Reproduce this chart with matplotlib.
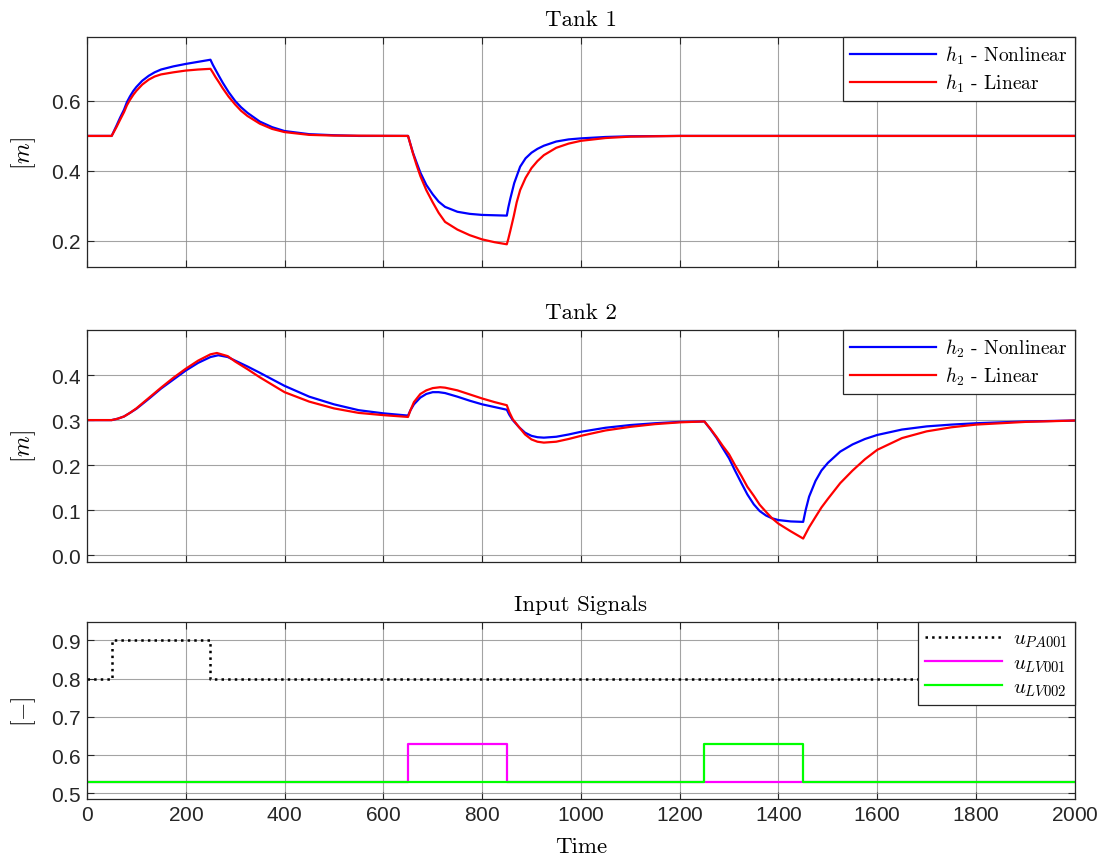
import numpy as np
import matplotlib
matplotlib.use("Agg")
import matplotlib.pyplot as plt

plt.rcParams['mathtext.fontset'] = 'cm'
plt.rcParams['axes.formatter.use_mathtext'] = True

# ---- Tank 1 (h1) ----
t1_nl = [0, 50, 55, 60, 67, 75, 81, 87, 94, 100, 112, 125, 137, 150, 175, 200, 225, 250,
         255, 260, 267, 275, 287, 300, 312, 325, 350, 375, 400, 450, 500, 550, 650,
         655, 660, 667, 675, 687, 700, 712, 725, 750, 775, 800, 850,
         853, 857, 865, 877, 888, 900, 912, 925, 950, 975, 1000, 1050, 1100, 1200, 2000]
h1_nl = [0.5, 0.5, 0.515, 0.53, 0.552, 0.575, 0.597, 0.613, 0.629, 0.64, 0.658, 0.672, 0.682, 0.69, 0.699, 0.706, 0.712, 0.718,
         0.703, 0.69, 0.672, 0.652, 0.625, 0.6, 0.582, 0.566, 0.541, 0.525, 0.514, 0.505, 0.502, 0.5, 0.5,
         0.476, 0.452, 0.425, 0.395, 0.36, 0.333, 0.312, 0.297, 0.283, 0.277, 0.274, 0.272,
         0.295, 0.32, 0.365, 0.412, 0.436, 0.452, 0.463, 0.472, 0.484, 0.49, 0.493, 0.497, 0.499, 0.5, 0.5]

t1_lin = [0, 50, 55, 60, 67, 75, 81, 87, 94, 100, 112, 125, 137, 150, 175, 200, 225, 250,
          255, 260, 267, 275, 287, 300, 312, 325, 350, 375, 400, 450, 500, 650,
          655, 660, 667, 675, 687, 700, 712, 725, 750, 775, 800, 825, 850,
          853, 857, 864, 870, 877, 888, 900, 912, 925, 950, 975, 1000, 1050, 1100, 1200, 2000]
h1_lin = [0.5, 0.5, 0.513, 0.526, 0.546, 0.568, 0.588, 0.603, 0.618, 0.629, 0.647, 0.661, 0.67, 0.676, 0.682, 0.687, 0.69, 0.692,
          0.681, 0.669, 0.654, 0.636, 0.612, 0.59, 0.572, 0.557, 0.535, 0.52, 0.511, 0.503, 0.501, 0.5,
          0.475, 0.45, 0.418, 0.385, 0.345, 0.31, 0.28, 0.254, 0.232, 0.216, 0.204, 0.196, 0.19,
          0.205, 0.228, 0.27, 0.31, 0.345, 0.38, 0.408, 0.428, 0.445, 0.466, 0.478, 0.486, 0.494, 0.498, 0.5, 0.5]

# ---- Tank 2 (h2) ----
t2_nl = [0, 50, 62, 75, 87, 100, 125, 150, 175, 200, 225, 250, 266, 285, 300, 325, 350, 400, 450, 500, 550, 600, 650,
         655, 662, 675, 687, 700, 712, 725, 750, 775, 800, 825, 850,
         855, 862, 875, 887, 900, 912, 925, 950, 975, 1000, 1050, 1100, 1150, 1200, 1250,
         1262, 1275, 1287, 1300, 1312, 1325, 1337, 1350, 1362, 1375, 1387, 1400, 1425, 1450,
         1455, 1462, 1475, 1487, 1500, 1525, 1550, 1575, 1600, 1650, 1700, 1750, 1800, 1900, 2000]
h2_nl = [0.3, 0.3, 0.303, 0.308, 0.316, 0.325, 0.347, 0.37, 0.39, 0.41, 0.427, 0.44, 0.444, 0.44, 0.432, 0.419, 0.405, 0.376, 0.352, 0.335, 0.322, 0.315, 0.31,
         0.322, 0.335, 0.35, 0.358, 0.362, 0.362, 0.36, 0.352, 0.343, 0.335, 0.329, 0.323,
         0.312, 0.3, 0.284, 0.272, 0.265, 0.262, 0.261, 0.263, 0.268, 0.274, 0.283, 0.289, 0.293, 0.296, 0.297,
         0.28, 0.26, 0.238, 0.215, 0.188, 0.16, 0.135, 0.113, 0.098, 0.088, 0.082, 0.078, 0.075, 0.074,
         0.1, 0.13, 0.165, 0.188, 0.205, 0.23, 0.246, 0.258, 0.267, 0.279, 0.286, 0.29, 0.293, 0.297, 0.299]

t2_lin = [0, 50, 62, 75, 87, 100, 125, 150, 175, 200, 225, 250, 263, 285, 300, 325, 350, 400, 450, 500, 550, 600, 650,
          655, 662, 675, 687, 700, 715, 725, 750, 775, 800, 825, 850,
          855, 862, 875, 887, 900, 912, 925, 950, 975, 1000, 1050, 1100, 1150, 1200, 1250,
          1262, 1275, 1287, 1300, 1312, 1325, 1337, 1350, 1362, 1375, 1387, 1400, 1425, 1450,
          1462, 1475, 1487, 1500, 1525, 1550, 1575, 1600, 1650, 1700, 1750, 1800, 1900, 2000]
h2_lin = [0.3, 0.3, 0.303, 0.308, 0.316, 0.326, 0.349, 0.372, 0.394, 0.414, 0.432, 0.446, 0.449, 0.442, 0.43, 0.413, 0.395, 0.362, 0.341, 0.326, 0.316, 0.311, 0.307,
          0.322, 0.34, 0.358, 0.366, 0.371, 0.373, 0.372, 0.366, 0.357, 0.348, 0.34, 0.333,
          0.318, 0.302, 0.284, 0.268, 0.257, 0.252, 0.25, 0.252, 0.258, 0.265, 0.277, 0.285, 0.291, 0.295, 0.297,
          0.281, 0.262, 0.243, 0.224, 0.2, 0.176, 0.152, 0.132, 0.112, 0.096, 0.082, 0.07, 0.053, 0.037,
          0.062, 0.085, 0.106, 0.125, 0.16, 0.188, 0.213, 0.234, 0.26, 0.275, 0.284, 0.29, 0.296, 0.299]

# ---- Input signals (step breakpoints) ----
t_pa = [0, 50, 250, 2000]
u_pa = [0.8, 0.9, 0.8, 0.8]
t_lv1 = [0, 650, 850, 2000]
u_lv1 = [0.53, 0.63, 0.53, 0.53]
t_lv2 = [0, 1250, 1450, 2000]
u_lv2 = [0.53, 0.63, 0.53, 0.53]

xticks = list(range(0, 2001, 200))

serif = 'cmr10'
tickfont = 'Liberation Sans'


def style_axes(ax, yticks, ylim, show_x):
    ax.set_xlim(0, 2000)
    ax.set_ylim(*ylim)
    ax.set_xticks(xticks)
    ax.set_yticks(yticks)
    ax.grid(True, color='#8c8c8c', lw=0.8, alpha=0.8)
    ax.tick_params(direction='in', length=5, width=0.8, top=True, right=True,
                   colors='#262626', labelsize=15, labelbottom=show_x, pad=4)
    for lab in ax.get_xticklabels() + ax.get_yticklabels():
        lab.set_fontfamily(tickfont)
    for s in ax.spines.values():
        s.set_color('#262626')
        s.set_linewidth(0.9)
    ax.yaxis.set_label_coords(-0.05, 0.5)


fig = plt.figure(figsize=(11.05, 8.62), dpi=100)
L, W = 0.0787, 0.894
ax1 = fig.add_axes([L, 0.6891, W, 0.2668])
ax2 = fig.add_axes([L, 0.3469, W, 0.2691])
ax3 = fig.add_axes([L, 0.0719, W, 0.2053])

leg_kw = dict(loc='upper right', borderaxespad=0, fancybox=False, edgecolor='#262626',
              framealpha=1, handlelength=4.4, labelspacing=0.3, handletextpad=0.5,
              borderpad=0.35, prop={'family': serif, 'size': 14})

ax1.plot(t1_nl, h1_nl, color='#0000ff', lw=1.6, label=r'$h_1$ - Nonlinear')
ax1.plot(t1_lin, h1_lin, color='#ff0000', lw=1.6, label=r'$h_1$ - Linear')
style_axes(ax1, [0.2, 0.4, 0.6], (0.125, 0.783), False)
ax1.set_title('Tank 1', fontfamily=serif, fontsize=16.5, pad=9)
ax1.set_ylabel(r'$[m]$', fontsize=17)
lg = ax1.legend(**leg_kw)
lg.get_frame().set_linewidth(0.9)

ax2.plot(t2_nl, h2_nl, color='#0000ff', lw=1.6, label=r'$h_2$ - Nonlinear')
ax2.plot(t2_lin, h2_lin, color='#ff0000', lw=1.6, label=r'$h_2$ - Linear')
style_axes(ax2, [0, 0.1, 0.2, 0.3, 0.4], (-0.015, 0.5), False)
ax2.set_title('Tank 2', fontfamily=serif, fontsize=16.5, pad=9)
ax2.set_ylabel(r'$[m]$', fontsize=17)
lg = ax2.legend(**leg_kw)
lg.get_frame().set_linewidth(0.9)

ax3.plot(t_pa, u_pa, color='black', lw=1.8, ls=':', drawstyle='steps-post', label=r'$u_{PA\mathrm{001}}$')
ax3.plot(t_lv1, u_lv1, color='#ff00ff', lw=1.6, drawstyle='steps-post', label=r'$u_{LV\mathrm{001}}$')
ax3.plot(t_lv2, u_lv2, color='#00ff00', lw=1.6, drawstyle='steps-post', label=r'$u_{LV\mathrm{002}}$')
style_axes(ax3, [0.5, 0.6, 0.7, 0.8, 0.9], (0.485, 0.948), True)
ax3.set_title('Input Signals', fontfamily=serif, fontsize=16.5, pad=9)
ax3.set_ylabel(r'$[-]$', fontsize=17)
ax3.set_xlabel('Time', fontfamily=serif, fontsize=16.5, labelpad=9)
kw3 = dict(leg_kw)
kw3['prop'] = {'family': serif, 'size': 15}
kw3['handlelength'] = 3.7
kw3['labelspacing'] = 0.2
lg = ax3.legend(**kw3)
lg.get_frame().set_linewidth(0.9)

fig.savefig('out.png', dpi=100)
